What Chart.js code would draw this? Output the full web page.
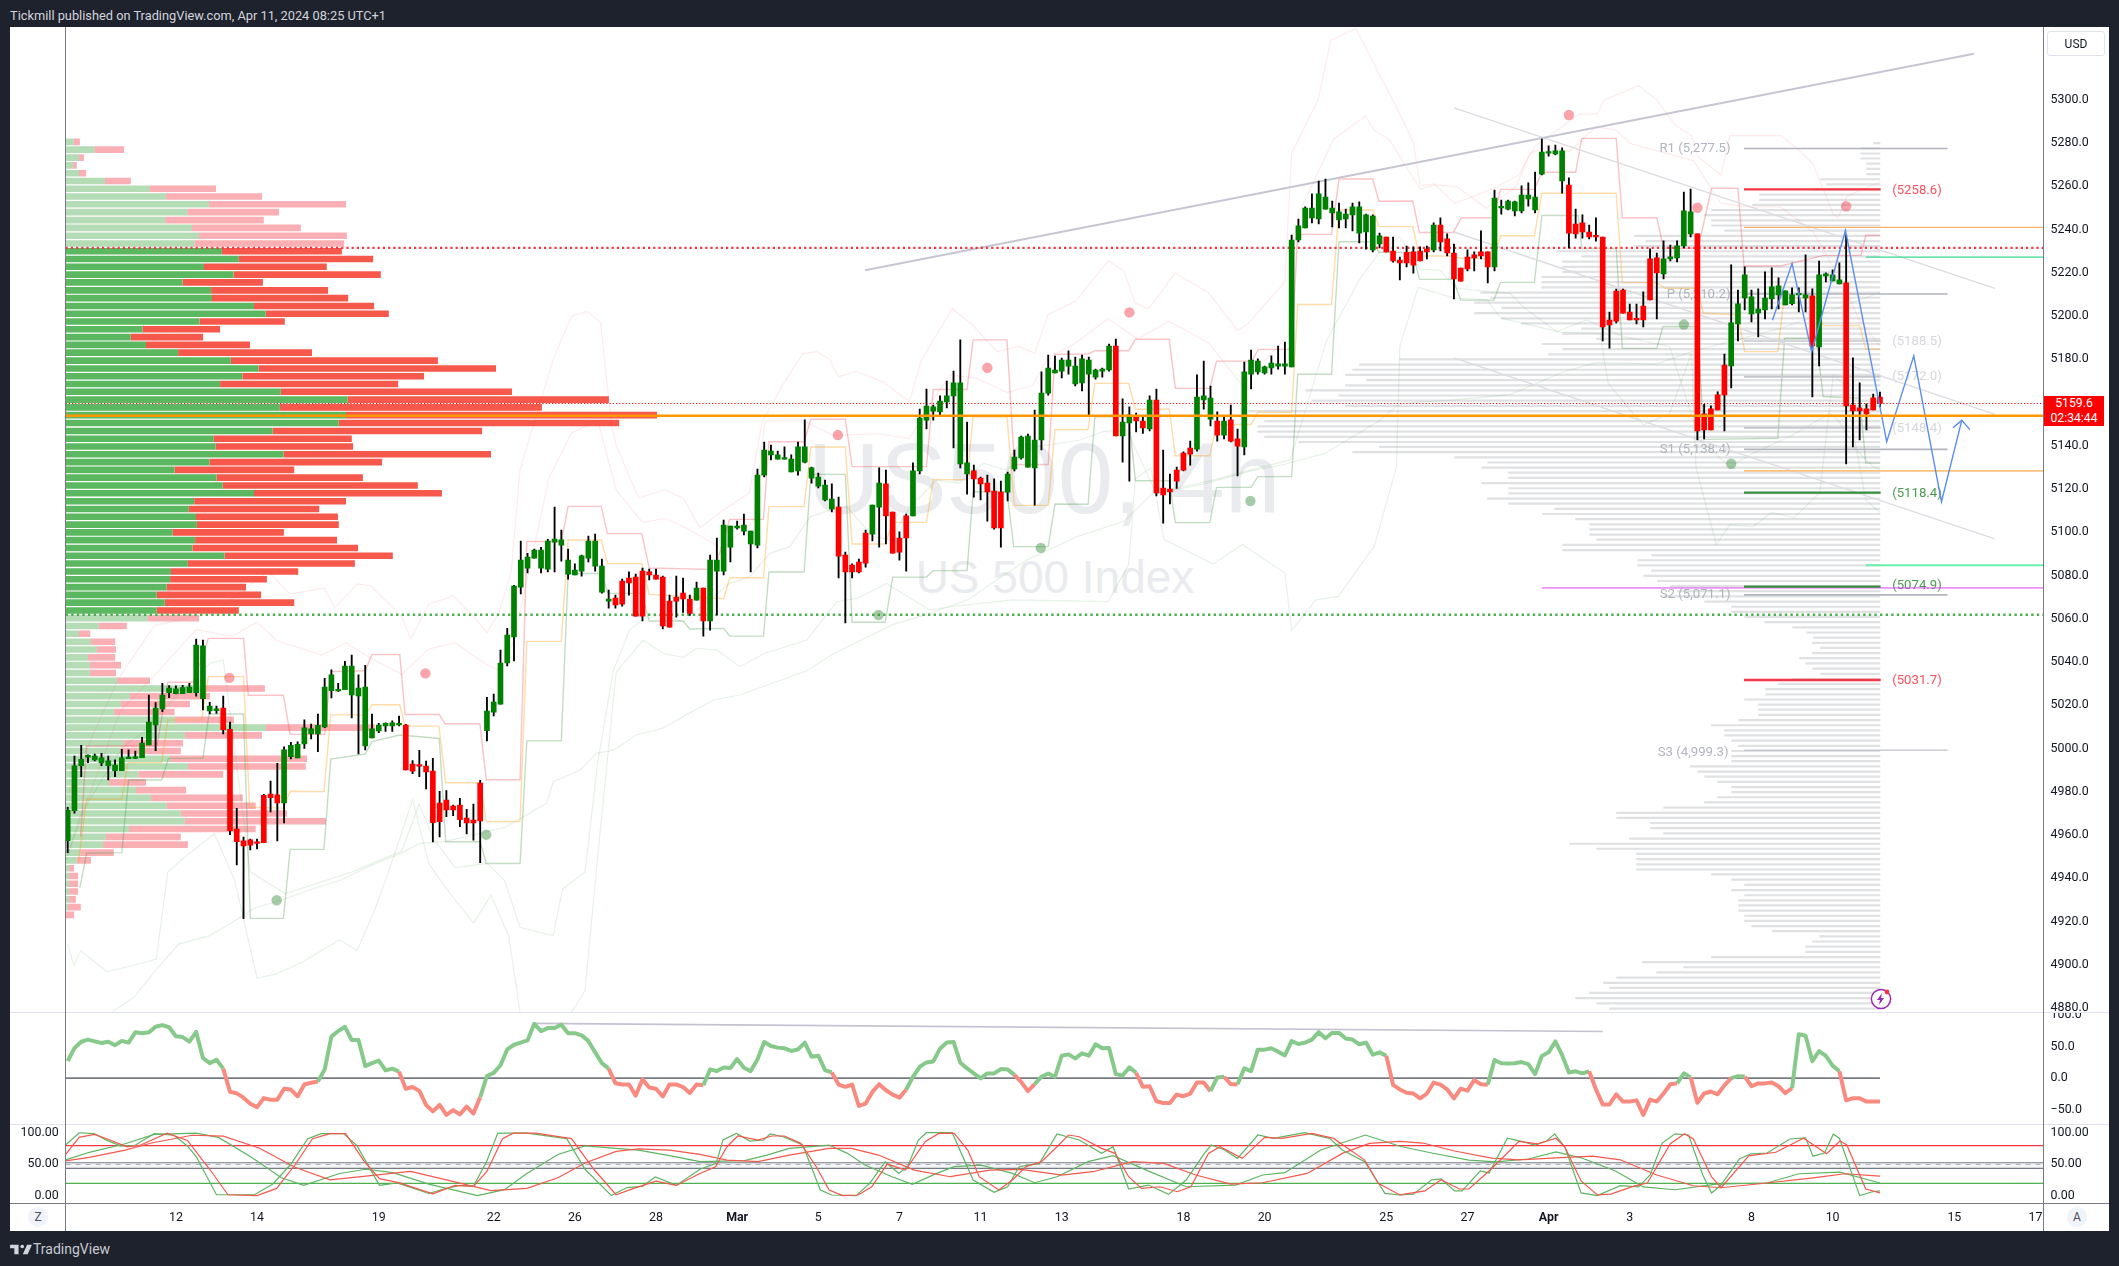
<!DOCTYPE html>
<html>
<head>
<meta charset="utf-8">
<title>US500, 4h</title>
<script src="https://cdn.jsdelivr.net/npm/chart.js@4/dist/chart.umd.min.js"></script>
<style>
  html, body { margin: 0; padding: 0; background: #1e222d; width: 2119px; height: 1266px; overflow: hidden; }
  body { position: relative; font-family: Roboto, sans-serif; }
  .abs { position: absolute; }
  canvas { position: absolute; display: block; }
  #panel { left: 10px; top: 27px; width: 2099px; height: 1204px; background: #fff; }
  #header { left: 10px; top: 6px; color: #d1d4dc; font-size: 12.8px; line-height: 20px; white-space: nowrap; }
  #brand { left: 33px; top: 1239px; color: #c7c9cf; font-size: 14px; line-height: 20px; }
  .wm { color: #e9ebee; font-family: "Liberation Sans", sans-serif; white-space: nowrap; text-align: center; }
  #wm1 { left: 744px; width: 600px; top: 420px; font-size: 100px; line-height: 116px; }
  #wm2 { left: 755px; width: 600px; top: 548px; font-size: 46px; line-height: 58px; }
  .sep { background: #e0e3eb; }
  .axisLine { background: #787b86; }
  #usd { left: 2047px; top: 31px; width: 58px; height: 25px; line-height: 25px; text-align: center; font-size: 12px; color: #131722; border: 1px solid #e0e3eb; border-radius: 3px; box-sizing: border-box; }
  #lastPrice { left: 2044px; top: 396px; width: 60px; height: 30px; background: #ff0000; color: #fff; font-size: 12.2px; line-height: 14.5px; text-align: center; }
  .round { width: 20px; height: 20px; line-height: 20px; border-radius: 10px; background: #f0f3fa; color: #50535e; font-size: 12px; text-align: center; }
</style>
</head>
<body>
<div id="panel" class="abs"></div>
<div id="header" class="abs">Tickmill published on TradingView.com, Apr 11, 2024 08:25 UTC+1</div>
<svg class="abs" style="left:10px;top:1241px" width="22" height="17" viewBox="0 0 36 28"><path fill="#d1d4dc" d="M14 6H0v6h7v10h7V6zm15 16h-8l7-16h8l-7 16z"/><circle cx="20" cy="9" r="3" fill="#d1d4dc"/></svg>
<div id="brand" class="abs">TradingView</div>
<div id="wm1" class="abs wm">US500, 4h</div>
<div id="wm2" class="abs wm">US 500 Index</div>

<canvas id="mainChart" width="2099" height="985" style="left:10px;top:27px"></canvas>
<canvas id="oscChart" width="2099" height="113" style="left:10px;top:1012px"></canvas>
<canvas id="stochChart" width="2099" height="106" style="left:10px;top:1125px"></canvas>

<div class="abs sep" style="left:10px;top:1012px;width:2099px;height:1px"></div>
<div class="abs sep" style="left:10px;top:1124px;width:2099px;height:1px"></div>
<div class="abs axisLine" style="left:10px;top:1203px;width:2099px;height:1px"></div>
<div class="abs axisLine" style="left:65px;top:27px;width:1px;height:1204px"></div>
<div class="abs axisLine" style="left:2043px;top:27px;width:1px;height:1204px"></div>

<div id="usd" class="abs">USD</div>
<div id="lastPrice" class="abs">5159.6<br>02:34:44</div>
<div class="abs round" style="left:28px;top:1207px">Z</div>
<div class="abs round" style="left:2067px;top:1207px">A</div>
<svg class="abs" style="left:1869px;top:987px" width="24" height="24" viewBox="0 0 24 24"><circle cx="12" cy="12" r="9.6" fill="#fff" stroke="#9c27b0" stroke-width="1.5"/><path fill="#9c27b0" d="M13 6l-5 7h3l-1 5 5-7h-3z"/><circle cx="18" cy="5" r="2.4" fill="#f23645"/></svg>

<script>
// ── Candles, oldest first ─────────────────────────────────────────────────
var candleHigh = [
  4972.9,4996.6,5001.5,4997.1,4997.5,4997.8,4996.6,4994.8,4999.7,4999.4,4998.9,5005.2,5024.7,5021.3,5030.2,5029.1,5029.0,5029.3,5030.2,5050.7,5050.2,5021.4,5019.7,5024.3,5012.3,
  4972.4,4959.1,4958.2,4958.2,4978.9,4985.0,4993.2,5000.8,5002.9,5003.1,5013.3,5011.4,5016.0,5032.5,5036.4,5030.2,5040.4,5043.3,5034.1,5038.5,5016.0,5011.7,5011.9,5012.8,5015.0,
  5011.2,4994.5,4999.2,4994.2,4995.5,4980.2,4980.6,4973.9,4977.0,4971.9,4974.4,4985.3,5023.7,5025.2,5045.6,5055.6,5075.5,5096.0,5090.3,5092.3,5093.1,5096.8,5111.7,5101.1,5092.3,
  5085.4,5089.5,5098.3,5099.2,5087.7,5073.3,5071.0,5078.4,5081.7,5080.7,5083.5,5083.0,5083.0,5079.8,5071.0,5079.8,5078.9,5071.0,5077.0,5074.2,5089.5,5097.4,5105.7,5102.9,5105.2,
  5108.5,5100.6,5129.3,5141.8,5140.4,5137.6,5139.5,5135.8,5141.8,5152.0,5130.2,5127.4,5124.2,5122.4,5116.3,5090.9,5085.4,5087.7,5101.1,5112.6,5129.8,5128.8,5109.4,5100.2,5108.5,
  5132.1,5157.0,5166.3,5158.9,5163.1,5170.0,5174.6,5189.0,5151.0,5131.1,5125.6,5126.5,5124.7,5123.7,5127.9,5138.1,5144.5,5145.5,5156.6,5174.2,5182.0,5181.5,5180.6,5183.9,5181.1,
  5182.0,5181.1,5175.5,5176.0,5187.1,5189.4,5161.7,5158.0,5155.2,5153.3,5163.1,5166.3,5138.1,5127.0,5130.2,5137.2,5142.2,5172.8,5179.2,5167.7,5155.7,5153.3,5158.9,5147.8,5178.8,
  5184.3,5180.2,5176.9,5181.6,5186.2,5188.0,5237.5,5244.9,5250.5,5256.5,5262.5,5263.4,5253.2,5252.3,5249.5,5252.3,5252.8,5247.2,5246.8,5238.4,5236.6,5236.6,5227.3,5232.4,5232.1,
  5232.0,5232.4,5243.1,5245.4,5238.0,5233.3,5222.2,5230.6,5229.7,5239.4,5229.7,5258.3,5253.7,5253.7,5253.2,5260.2,5261.6,5266.6,5281.9,5278.7,5279.1,5277.8,5263.9,5249.5,5246.8,
  5242.1,5245.4,5236.6,5201.9,5212.5,5212.5,5205.6,5205.6,5211.2,5231.1,5229.2,5234.8,5232.9,5234.8,5257.4,5258.8,5238.0,5159.2,5158.5,5165.0,5182.5,5223.7,5212.1,5222.8,5212.1,
  5212.6,5220.5,5222.3,5217.7,5211.7,5213.1,5213.1,5228.3,5212.6,5225.5,5220.0,5221.4,5224.6,5237.6,5180.7,5169.1,5159.4,5164.0,5164.9
];
var candleLow = [
  4951.9,4970.1,4987.0,4993.5,4994.3,4992.1,4985.5,4987.0,4989.8,4995.4,4995.5,4995.8,5001.7,4999.1,5017.1,5023.6,5025.3,5025.4,5025.9,5024.3,5017.9,5016.0,5016.3,5006.8,4960.2,
  4946.2,4921.4,4953.1,4953.6,4956.5,4970.7,4957.3,4965.6,4995.2,4995.7,5000.1,5004.5,4998.6,5009.7,5023.4,5026.4,5027.3,5014.2,4997.5,4999.4,5004.9,5007.4,5007.9,5007.9,5010.5,
  4990.2,4988.4,4987.0,4981.4,4956.9,4959.2,4968.5,4969.0,4963.9,4960.6,4957.7,4947.2,5003.6,5015.1,5020.6,5038.2,5040.5,5071.5,5081.2,5088.1,5081.2,5081.7,5081.7,5086.7,5078.4,
  5080.3,5079.8,5086.3,5082.1,5071.9,5065.0,5065.0,5065.9,5071.0,5061.3,5059.0,5078.0,5078.4,5055.3,5056.2,5060.8,5063.0,5061.6,5068.7,5052.0,5054.8,5061.8,5080.3,5086.3,5101.5,
  5098.8,5081.7,5092.8,5125.6,5133.5,5133.9,5133.9,5127.9,5126.5,5132.1,5122.8,5120.5,5114.5,5109.4,5078.9,5058.1,5078.9,5081.2,5083.9,5096.0,5093.2,5094.6,5090.4,5087.2,5082.1,
  5107.6,5127.0,5147.8,5151.9,5153.8,5157.5,5139.0,5129.8,5117.7,5116.3,5115.0,5105.2,5101.5,5093.2,5114.5,5128.4,5133.9,5130.2,5112.6,5138.1,5163.5,5173.7,5171.4,5173.2,5167.7,
  5165.4,5153.8,5170.9,5171.8,5174.6,5144.6,5132.5,5123.7,5146.4,5145.8,5146.9,5116.8,5104.3,5113.1,5120.3,5128.4,5131.1,5137.6,5157.0,5149.2,5142.2,5143.2,5141.8,5126.1,5135.8,
  5166.3,5173.2,5173.2,5173.2,5175.5,5173.2,5176.5,5234.3,5240.8,5243.1,5242.6,5249.5,5241.2,5240.8,5240.8,5239.4,5233.8,5231.0,5229.7,5231.5,5229.7,5225.0,5216.7,5222.7,5219.9,
  5225.5,5226.4,5229.7,5230.1,5227.8,5207.9,5216.2,5220.9,5220.9,5226.4,5215.3,5220.9,5247.2,5249.1,5246.3,5247.7,5250.9,5247.7,5265.3,5274.0,5274.5,5256.9,5231.5,5236.1,5236.1,
  5235.7,5234.7,5188.5,5185.2,5196.8,5201.4,5198.2,5196.4,5195.0,5207.5,5198.7,5217.2,5225.5,5225.1,5231.6,5236.6,5142.8,5143.2,5147.4,5156.6,5146.9,5166.8,5188.5,5202.9,5197.3,
  5190.4,5198.7,5203.3,5203.3,5205.2,5205.2,5202.0,5202.0,5162.6,5177.0,5215.8,5216.3,5214.9,5131.7,5139.5,5142.8,5147.4,5156.6,5158.0
];
var bodyTop = [
  4971.6,4992.0,4995.1,4996.9,4996.6,4995.7,4994.3,4992.4,4995.7,4996.1,4995.8,5002.6,5012.3,5018.8,5024.8,5028.0,5027.6,5028.2,5028.5,5047.9,5047.5,5019.7,5018.3,5018.8,5008.9,
  4962.8,4957.3,4957.8,4956.4,4978.4,4979.0,4978.6,4999.4,5001.5,5002.0,5009.6,5009.1,5010.8,5028.5,5034.1,5027.1,5038.2,5038.2,5028.0,5028.5,5009.1,5010.9,5011.7,5011.9,5011.4,
  5010.9,4992.9,4992.2,4991.9,4989.6,4974.8,4976.2,4973.4,4973.9,4967.9,4967.0,4984.1,5017.4,5021.5,5039.6,5052.5,5075.2,5087.2,5088.6,5091.8,5091.8,5096.0,5096.9,5096.5,5087.2,
  5082.6,5089.1,5096.0,5096.0,5084.4,5069.2,5069.6,5077.5,5078.9,5079.3,5082.1,5081.7,5080.3,5079.3,5068.2,5070.1,5071.9,5069.2,5074.2,5074.2,5087.2,5087.2,5103.4,5102.9,5102.9,
  5103.4,5100.6,5126.5,5138.1,5137.6,5135.8,5134.4,5133.9,5139.5,5139.5,5129.8,5125.6,5121.9,5115.4,5111.7,5089.5,5084.9,5086.3,5099.7,5112.6,5122.8,5122.4,5109.4,5097.4,5107.6,
  5128.4,5152.9,5158.4,5158.0,5160.7,5163.1,5169.1,5169.1,5132.1,5128.4,5125.1,5122.8,5119.1,5118.6,5127.0,5134.8,5144.1,5144.5,5142.7,5164.4,5176.0,5175.1,5179.7,5179.7,5176.9,
  5180.2,5179.7,5175.1,5175.5,5186.2,5186.2,5151.0,5154.3,5153.3,5151.5,5161.2,5161.2,5120.5,5120.0,5128.8,5136.7,5139.0,5162.6,5163.1,5162.1,5151.5,5151.5,5152.0,5143.2,5174.2,
  5179.7,5179.2,5176.5,5178.3,5177.9,5177.9,5235.2,5241.7,5250.0,5250.0,5256.5,5255.1,5250.0,5248.2,5247.2,5250.5,5250.5,5246.8,5246.3,5237.1,5236.6,5230.1,5225.9,5229.5,5229.7,
  5230.1,5231.0,5242.1,5242.1,5235.7,5229.2,5222.2,5227.3,5228.3,5229.7,5229.7,5254.6,5250.5,5253.2,5252.8,5256.0,5256.0,5255.1,5275.9,5275.9,5276.4,5276.4,5260.6,5242.6,5243.1,
  5238.9,5237.0,5236.6,5198.2,5211.6,5212.1,5201.9,5198.7,5204.7,5226.5,5226.9,5226.5,5227.4,5232.5,5248.7,5248.2,5238.0,5154.8,5157.1,5163.6,5177.4,5196.9,5205.7,5219.1,5208.9,
  5203.3,5208.4,5213.5,5214.0,5211.7,5209.8,5210.3,5209.8,5209.4,5219.1,5219.5,5219.1,5216.8,5215.4,5158.9,5157.6,5157.1,5162.2,5162.6
];
var bodyBottom = [
  4957.4,4971.3,4992.1,4996.1,4994.8,4993.4,4992.1,4989.8,4989.8,4995.4,4995.5,4995.8,5001.7,5010.9,5018.3,5025.9,5025.4,5025.4,5025.9,5025.9,5023.1,5017.4,5017.6,5008.8,4962.1,
  4957.0,4955.0,4955.4,4956.1,4956.5,4977.3,4974.9,4974.9,4996.3,4995.7,5002.2,5006.8,5006.8,5010.0,5026.8,5026.7,5027.3,5024.8,5024.4,5001.2,5004.9,5008.2,5010.5,5010.5,5010.9,
  4990.2,4989.6,4991.9,4989.2,4965.7,4966.2,4971.7,4971.7,4967.1,4965.6,4965.6,4966.6,5008.3,5016.9,5020.6,5039.6,5051.6,5074.7,5083.5,5088.1,5083.5,5083.0,5095.5,5094.1,5080.7,
  5080.3,5082.1,5088.1,5084.4,5072.4,5068.2,5066.4,5066.8,5076.6,5061.3,5061.3,5080.3,5078.4,5056.7,5056.2,5068.2,5069.2,5062.5,5068.7,5059.0,5059.0,5082.1,5082.1,5093.2,5102.0,
  5100.6,5094.6,5094.1,5126.5,5135.8,5133.9,5133.9,5127.9,5128.4,5132.5,5125.1,5121.4,5115.0,5110.8,5089.0,5081.7,5081.7,5081.7,5085.8,5099.2,5111.7,5107.6,5090.4,5090.9,5097.4,
  5107.6,5128.4,5151.9,5156.1,5155.7,5160.3,5163.1,5131.6,5127.0,5124.7,5122.4,5118.7,5102.0,5102.0,5118.6,5129.3,5134.4,5130.2,5129.8,5142.7,5164.4,5173.7,5174.6,5176.9,5168.6,
  5169.1,5173.2,5171.8,5174.6,5175.1,5144.6,5144.6,5150.6,5151.5,5148.3,5147.8,5118.2,5117.3,5118.7,5123.7,5128.8,5136.2,5138.5,5161.2,5152.4,5145.0,5145.0,5142.2,5139.9,5139.5,
  5173.2,5174.2,5173.7,5176.0,5176.9,5176.9,5176.5,5235.2,5240.8,5245.4,5244.9,5249.5,5247.7,5244.5,5244.9,5246.8,5238.4,5238.9,5230.6,5233.4,5229.7,5225.5,5224.6,5224.6,5223.6,
  5225.5,5229.7,5230.6,5234.3,5229.2,5217.2,5216.2,5221.8,5226.9,5227.8,5222.7,5222.7,5250.0,5249.5,5248.6,5248.6,5254.2,5249.1,5265.7,5275.4,5275.0,5262.5,5238.4,5238.0,5238.9,
  5236.6,5236.6,5195.0,5195.9,5197.7,5201.4,5198.2,5198.2,5198.2,5207.5,5220.0,5219.5,5226.5,5226.9,5232.5,5238.0,5146.9,5147.4,5147.4,5156.6,5163.6,5177.0,5196.4,5208.4,5201.0,
  5201.5,5202.9,5208.0,5209.8,5205.2,5205.7,5209.8,5208.4,5186.2,5185.8,5218.6,5216.3,5214.9,5158.5,5156.2,5156.2,5154.8,5156.6,5159.6
];
// alternating run lengths of up and down candles, starting with up
var candleRuns = [23,9,18,12,19,12,1,1,19,5,2,4,9,5,16,1,2,2,1,6,3,1,1,2,21,7,1,8,11,14,5,5,12,1,4,6];

// ── Overlay step lines: bar number, price ─────────────────────────────────
var stepHighBar = [1.9,2.8,13.2,14.8,18.6,20.8,26,26.7,31.9,32.9,38,38.9,44,45,49.1,49.9,54.95,55.8,60.96,61.9,66.9,67.9,73,74,78.9,79.8,84.9,86,94.7,95.7,97.9,102.9,103.7,108.9,109.9,115,116,127,128,133,133.9,138.9,140,145,146,150.9,151.9,156.9,157.9,162.9,163.8,168.9,169.9,175.1,176.1,181,181.9,186.9,188,193,193.9,198.9,199.9,204.9,206.1,210.8,211.9,216.9,218,223,223.9,229,229.9,235,236,241.1,243.1,247,247.9,253.3,259.7,265.2,265.9,268];
var stepHighVal = [4959.3,5001.2,5001.2,5030.7,5030.7,5051,5051,5024.7,5024.7,5006.6,5006.6,5035.6,5036,5043.5,5043.5,5015.8,5015.8,5011.5,5011.5,4985.6,4985.6,5095.8,5095.8,5112,5112,5099.4,5099.4,5083.5,5082.9,5082.9,5106,5106,5141.9,5141.9,5152.3,5152.3,5130.4,5130.4,5166.1,5166.1,5189,5189,5131.4,5131.4,5182.3,5182.5,5184,5184,5189.3,5189.3,5166.6,5166.6,5179.2,5179.2,5184.6,5184.6,5237.8,5237.8,5263.4,5263.4,5253.1,5253.2,5238.7,5238.7,5245.5,5245.5,5258.6,5258.6,5266.5,5266.5,5282.2,5282.2,5245.5,5245.5,5231.4,5231.4,5259.1,5259.1,5223.2,5223.2,5228.1,5228.1,5237.4,5237.4];
var stepMidBar = [1.6,2.8,8,8.9,13.9,14.8,19.8,20.8,26,26.9,31.9,32.9,37.9,38.9,44,45,49.1,49.9,54.9,55.9,61,61.9,66.9,67.9,73,74,78.9,79.8,84.9,86,97,97.9,102.9,103.7,108.9,109.9,115,116,120.9,122,127,128,133,133.9,138.9,140,145,146,150.9,151.9,156.9,157.9,162.9,163.8,168.9,169.9,175,176,181,181.9,186.9,188,193,193.9,198.9,199.9,204.9,206,210.8,211.9,216.9,218,229,229.9,235,236.2,241,241.9,247,248,252.9,253.8,258.6,259.6,265,265.9,268];
var stepMidVal = [4947.7,4976.6,4976.6,4993.5,4993.5,5013.3,5013.3,5033.3,5033.3,4972.9,4972.5,4980.3,4980.1,5015.6,5015.6,5020.3,5020.3,5010.4,5010.4,4984.2,4984.2,4966.3,4966.3,5049.6,5049.6,5096.5,5096.5,5085.6,5085.6,5071.3,5069.3,5079,5079,5111.9,5111.9,5139.5,5139.5,5094.6,5094.6,5104.6,5104.6,5124.4,5124.4,5153.5,5153.5,5112.5,5112.5,5147.6,5147.6,5168.9,5168.9,5156.9,5156.9,5135.4,5135.4,5149.9,5149.9,5155.5,5155.5,5205.4,5205.4,5249.1,5249.1,5241.4,5241.4,5227.8,5227.8,5226.7,5226.7,5237.2,5237.2,5256.8,5256.8,5215.5,5215.5,5212.9,5212.9,5201.3,5200.6,5183.6,5183.6,5208.3,5208.3,5195.6,5195.6,5184.7,5184.7];
var stepLowBar = [1.8,2.8,8,9,13.9,14.9,20,20.9,26,27,31.9,32.9,37.9,38.9,44,45,49.1,54.95,55.9,61,61.9,66.9,67.9,73,74,78.9,79.9,84.9,86,91,92,97,97.9,102.9,103.7,108.9,109.9,115,116,120.9,122,127,128,133,133.9,138.9,139.9,145,146,150.9,151.9,156.9,157.9,162.9,163.8,168.9,169.9,175,176,181,181.9,186.9,188,193,193.9,198.9,199.9,204.9,206,210.9,211.9,216.9,218,223.4,223.9,229,229.9,235,235.9,241,242,252.9,253.9,258.6,259.6,265,265.9,268];
var stepLowVal = [4935.7,4951.6,4951.9,4985.5,4985.5,4995.5,4995.5,5016,5016,4921.5,4921.5,4953.4,4953.4,4995.2,4997.5,5003.2,5006.3,5004.7,4956.9,4956.9,4946.9,4946.9,5003.6,5003.6,5081,5081,5071.8,5071.8,5059,5059,5055.3,5055.6,5052.1,5052,5081.7,5081.7,5126.8,5126.8,5058.4,5058.4,5079.3,5079.3,5082.3,5082.3,5118.8,5118.8,5093.4,5093.4,5113.1,5113,5153.5,5153.5,5123.9,5123.9,5104.5,5104.5,5120.8,5120.8,5125.8,5125.8,5173.1,5173.1,5234.4,5234.4,5229.5,5229.5,5217,5217,5207.4,5207.4,5215.6,5215.6,5246.5,5246.5,5231.3,5231.3,5185.1,5185.1,5195.2,5195.2,5143,5143.5,5189.8,5189.8,5162.8,5162,5132,5132];

// ── Faint envelope lines: bar number, price ───────────────────────────────
var upperBandBar = [0,3.5,7.5,12.8,21.7,29.6,32.9,37.9,39.5,42.8,44.8,49.4,50.7,53.4,57,60,62,63.8,65.6,66.9,71.8,74.5,76.8,78.8,80.4,81.1,84.4,88.3,91,93.5,96.8,100.8,102.7,106,108.7,110.7,112.6,114,116.6,120.6,124.5,126.2,130.8,133.8,137.4,140.7,143,145,149,153.9,156.2,157.9,159.8,163.8,168.7,173,174.4,180,181,184.9,186.8,190.5,197,199,200,202.1,205.1,210.6,214.6,217,223.5,226.2,227.2,232.3,235,237.7,240.1,241.1,244.5,245.8,253.3,256,258.1,261.1,261.8,263.1,268];
var upperBandVal = [4978.3,5004.8,5032.4,5056.9,5063,5082,5071.5,5074.3,5065,5076.2,5075.3,5061.1,5050.8,5066.8,5070.6,5061.1,5053.6,5063,5082,5129.1,5180,5199.9,5202.2,5197.1,5149.9,5140.4,5115.9,5119.7,5115.9,5102.1,5110,5118.3,5151.3,5169.5,5182.7,5183.6,5180.3,5172,5174.5,5169.5,5160.4,5179.4,5203.4,5196,5183.6,5186,5182.7,5200.9,5206.7,5225.7,5220.7,5205.9,5203.4,5219.9,5210.8,5193.5,5196,5215.8,5275.2,5300,5327.5,5333,5293.4,5280.2,5260.4,5261.2,5252.1,5258.7,5265.3,5278.5,5293.4,5293.4,5300,5306.6,5300,5288.4,5283.5,5273.6,5265.3,5283.5,5283.5,5276.9,5270.3,5247.1,5245.5,5255.4,5262];
var innerUpperBar = [0,3.2,7.8,11.8,14.4,19,24.3,28,30.9,37.5,41.2,44.1,49.4,53.4,57.3,61.3,63.6,65.9,71.2,74.5,78.4,81.1,85,88.3,91,96.8,101.4,103.1,108.4,113.3,119.9,124.5,127.2,130.5,134.4,139,142.7,145,148.3,153.9,158.2,162.8,168.7,173.7,180.6,182,187.2,191.9,193.2,195.5,200,202,205.4,209.8,214.2,216.2,218.7,222.1,226,229,231,240.4,244.5,248.6,253.3,258.1,262.1,264.8,268];
var innerUpperVal = [4950.8,4978.3,5017.6,5030.4,5039.2,5055,5052,5058.5,5050,5043.2,5049,5043.2,5034.3,5046.1,5049,5040.2,5036.3,5049,5125.3,5146,5151.8,5119.7,5104.6,5106.4,5102.7,5092.7,5105.1,5151.3,5152.2,5144.7,5145.6,5143.4,5158,5172.8,5171.2,5164.6,5167.9,5181.1,5186,5198.9,5189.3,5197.6,5187.7,5167.9,5191.8,5247.1,5281.8,5292.6,5286,5281.4,5258.8,5260.7,5259.9,5249.9,5259.9,5275.3,5278.4,5276.1,5287.6,5286,5279.9,5271.9,5252.1,5250.5,5250.5,5238.9,5217.4,5199.2,5186];
var innerLowerBar = [-0.2,1.8,5.3,8.2,11.7,15.1,18.6,21,23,27,32.2,42.1,49.4,52,54,57.3,62,64.6,66.9,71.8,73.2,76.5,78.4,80.7,83.1,84.9,87.6,91,97.9,100.9,103.8,106.8,109.8,112.7,115.2,119.1,121.6,124.6,128.5,131.9,135.4,138.8,143.3,149.7,153.1,156.6,161,163.9,170.4,174.8,180.8,186.2,191,194,197,200,202.9,205.4,210.3,213.3,215.2,217.2,220.2,224.6,230,236.9,241.3,245.8,249.2,254.7,260.6,261.8,264.5,267,268];
var innerLowerVal = [4948.5,4968.6,4987,5000.9,5008.6,5021,5031.8,5039.5,5041,4943,4933,4943,4952.8,4974.4,4958.7,4945,4946.9,4939,4917.4,4913.5,4935.1,4943,4994,5036.3,5054.8,5059.5,5061.8,5058.7,5076.4,5079.5,5090.3,5093.4,5107.2,5110.3,5111.9,5098,5096.5,5111.9,5124.2,5122.7,5132,5128.8,5139.6,5142.7,5146.6,5147.4,5118,5120.4,5125,5128.8,5133.5,5189,5216.7,5229.8,5236.7,5221.6,5221.3,5212.9,5211.3,5210.5,5204.4,5199.7,5192.8,5198.2,5190.5,5186,5142.8,5130.4,5136.6,5144.3,5155.1,5152,5138.1,5130.4,5128.9];
var outerLowerBar = [0,0.9,1.9,5.8,9.8,13.1,14.8,17.7,21.7,24.7,28,30.9,34.9,40.2,42.8,45.4,48.1,51,53.4,56,60,62.6,65.2,66.9,68.5,74.5,76.5,78.4,81.1,85.1,88.1,91,93,96,99.4,103,109.3,113.7,116.7,121.1,127.5,130.5,139.7,153.9,156.9,157.9,160.2,162.1,169.4,173.7,180,181,184.6,187.9,193.2,196.5,197,199.7,205.1,209.9,211.9,220.7,226.6,227.8,231.5,233,236.9,240.1,240.8,243.8,245.8,249.2,252,255.3,259.1,261.1,262.8,265.9,268];
var outerLowerVal = [4909.6,4899.7,4906.6,4896.8,4899.8,4902.7,4942.9,4950.8,4960.6,4939,4893.9,4895.8,4901.7,4911.5,4906.6,4925.3,4948.9,4976.4,4946.9,4935.1,4919.4,4932.2,4913.5,4878.1,4864,4878.1,4888,4950.8,5035.3,5050.2,5044,5042.2,5046.4,5045.6,5037.9,5044,5050.2,5067.9,5069.5,5076.4,5064,5065.6,5068.8,5068,5085.3,5124.9,5129.9,5096.8,5085.3,5094.4,5081.2,5054.7,5068.8,5070.4,5093.5,5130,5186,5213.3,5208.3,5207.5,5199.2,5192.6,5192,5169,5155,5149.7,5155,5182.7,5129.9,5094.4,5103.5,5102.6,5109.2,5106.8,5118.3,5172.8,5167.9,5115,5109.2];
var slowLineBar = [6.5,9.8,13.1,16.4,21,24.7,27.6,30.9,36.2,40.2,44.8,49.4,52.1,55.5,61,64.9,70.8,71.8,75.8,78.2,80.7,84.1,88,91,95.5,99.4,109.3,113.3,121.9,127.2,133.1,141.7,149,156.2,160.2,168.1,174.7,180,185.9,193.8,197,205.1,213.3,221.4,226.2,235,240.1,253.3,268];
var slowLineVal = [4878.1,4885,4897.8,4909.6,4913.5,4920.4,4926.3,4929.2,4935.1,4939,4945.9,4951.8,4956.2,4956.9,4960.8,4963.9,4974.7,4984.7,4990.1,4997.8,4999.3,5006.3,5009.4,5014.8,5022.5,5024.8,5036,5044,5057.2,5062.2,5068.8,5087,5097.7,5105.1,5117.5,5122.4,5128.2,5131.5,5136.5,5151.3,5159.6,5161.3,5163.7,5174.5,5178.6,5177.8,5183.6,5194.3,5210.8];

// ── Fractal dots ──────────────────────────────────────────────────────────
var dotHighBar = [23.9,52.9,113.9,136,157,222,241,263];
var dotHighVal = [5032.7,5034.8,5145,5176.1,5201.7,5293,5250.1,5250.8];
var dotLowBar = [30.9,61.9,119.9,143.9,174.9,239,246];
var dotLowVal = [4929.9,4960.2,5061.8,5092.8,5114.5,5196.1,5131.7];

// ── Left volume profile: row price, up volume, total volume ───────────────
var vpLeftPrice = [5280.6,5277.0,5273.3,5269.7,5266.1,5262.5,5258.9,5255.3,5251.7,5248.1,5244.4,5240.8,5237.2,5233.6,5230.0,5226.4,5222.8,5219.2,5215.6,5211.9,5208.3,5204.7,5201.1,5197.5,5193.9,5190.3,5186.7,5183.1,5179.4,5175.8,5172.2,5168.6,5165.0,5161.4,5157.8,5154.2,5150.6,5146.9,5143.3,5139.7,5136.1,5132.5,5128.9,5125.3,5121.7,5118.1,5114.4,5110.8,5107.2,5103.6,5100.0,5096.4,5092.8,5089.2,5085.6,5081.9,5078.3,5074.7,5071.1,5067.5,5063.9,5060.3,5056.7,5053.1,5049.4,5045.8,5042.2,5038.6,5035.0,5031.4,5027.8,5024.2,5020.6,5016.9,5013.3,5009.7,5006.1,5002.5,4998.9,4995.3,4991.7,4988.1,4984.4,4980.8,4977.2,4973.6,4970.0,4966.4,4962.8,4959.2,4955.6,4951.9,4948.3,4944.7,4941.1,4937.5,4933.9,4930.3,4926.7,4923.1];
var vpLeftUp = [8,29,13.4,7.6,13.4,39.3,84.4,100,143.3,121.9,99.6,126.3,133.5,129,156.3,173.2,138.4,167.9,117,145.5,146.4,188.4,200,133.9,76.8,65.2,80.4,112.5,165.2,192.9,176.8,154.5,215.2,282.1,214.3,280.4,273.2,207.1,148.2,150,217.9,143.8,108.9,150.9,157.1,188.4,128.6,123.2,130.4,131.3,107.1,129.5,126.8,158.9,122.3,105.4,104.5,100.9,91.1,99.1,91.1,82.1,33,13.4,25.4,31.3,22.3,24.1,24.1,51.8,139,64.3,55.3,48.3,109.3,200.3,119.3,57.7,54.9,104.5,122.3,72.8,43.3,70.5,85.3,100.9,115.2,118.8,63.4,40.2,37.5,14.7,11.2,3.6,3.6,3.6,3.6,3.6,2.2,0];
var vpLeftTotal = [14.3,58.5,18.3,11.2,20.5,65.2,150.4,196.4,280.4,213.4,198.2,235.3,281.3,278.6,276.3,307.6,261.2,315.2,197.3,262.5,282.6,308.5,323.2,219.2,154.5,137.5,184.4,246.4,372.3,430.4,358.5,332.6,446.4,543.3,476.3,591.5,553.6,416.5,286.2,287.5,425.4,316.5,228.6,297.3,352.2,376.3,280.4,253.6,272.3,273.2,218.3,271.4,292.4,327.2,289.3,232.6,201.3,180.4,195.5,228.6,173.2,133.5,61.2,24.6,49.6,50.4,49.6,55.4,50.4,84.4,199.3,144.3,124.3,109,168.3,309.3,196.3,117.3,115.2,241.5,240.2,157.6,80.4,120.5,177.2,190.1,221.4,260.3,190.1,115.2,122.3,48.2,25.4,8.5,12.5,12.5,12.5,10.3,15.2,8.5];
// rows of the value area are drawn solid, the others pale
var vpLeftAreaFirst = 14;
var vpLeftAreaLast = 60;

// ── Right volume profile: row price, volume ───────────────────────────────
var vpRightPrice = [5280.0,5277.6,5275.2,5272.9,5270.5,5268.1,5265.7,5263.3,5260.9,5258.6,5256.2,5253.8,5251.4,5249.0,5246.7,5244.3,5241.9,5239.5,5237.1,5234.7,5232.4,5230.0,5227.6,5225.2,5222.8,5220.5,5218.1,5215.7,5213.3,5210.9,5208.5,5206.2,5203.8,5201.4,5199.0,5196.6,5194.2,5191.9,5189.5,5187.1,5184.7,5182.3,5180.0,5177.6,5175.2,5172.8,5170.4,5168.0,5165.7,5163.3,5160.9,5158.5,5156.1,5153.8,5151.4,5149.0,5146.6,5144.2,5141.8,5139.5,5137.1,5134.7,5132.3,5129.9,5127.6,5125.2,5122.8,5120.4,5118.0,5115.6,5113.3,5110.9,5108.5,5106.1,5103.7,5101.4,5099.0,5096.6,5094.2,5091.8,5089.4,5087.1,5084.7,5082.3,5079.9,5077.5,5075.1,5072.8,5070.4,5068.0,5065.6,5063.2,5060.9,5058.5,5056.1,5053.7,5051.3,5048.9,5046.6,5044.2,5041.8,5039.4,5037.0,5034.6,5032.2,5029.9,5027.5,5025.1,5022.7,5020.3,5018.0,5015.6,5013.2,5010.8,5008.4,5006.1,5003.7,5001.3,4998.9,4996.5,4994.2,4991.8,4989.4,4987.0,4984.6,4982.2,4979.9,4977.5,4975.1,4972.7,4970.3,4968.0,4965.6,4963.2,4960.8,4958.4,4956.0,4953.7,4951.3,4948.9,4946.5,4944.1,4941.8,4939.4,4937.0,4934.6,4932.2,4929.8,4927.5,4925.1,4922.7,4920.3,4917.9,4915.6,4913.2,4910.8,4908.4,4906.0,4903.6,4901.3,4898.9,4896.5,4894.1,4891.7,4889.4,4887.0,4884.6,4882.2,4879.8];
var vpRightVol = [7,20,20,20,14,14,14,60,54,67,121,121,128,169,176,169,169,156,246,235,246,324,299,318,318,318,339,339,339,400,390,406,379,406,379,359,299,318,284,339,318,332,481,521,528,535,514,535,575,542,569,535,632,623,616,623,623,616,582,501,528,426,393,399,372,372,399,372,372,393,372,326,338,305,291,291,291,284,318,318,229,243,243,229,237,223,210,203,217,176,149,149,136,116,88,74,67,68,60,68,81,75,68,60,88,102,115,115,136,122,122,122,142,169,156,156,149,142,149,149,149,190,183,176,163,149,149,163,176,217,264,264,230,230,217,251,311,284,244,244,244,244,169,149,136,149,136,142,142,142,136,136,129,108,61,68,75,75,169,238,197,224,264,277,271,291,305,284,271,244];

// ── Horizontal levels ─────────────────────────────────────────────────────
var levelPrice = [5277.5,5258.6,5241,5227.3,5210.2,5188.5,5172,5148.4,5138.4,5128.4,5118.4,5084.8,5074.9,5074.3,5071.1,5031.7,4999.3];
var levelFrom  = [247.9,247.9,247.9,265.9,247.9,247.9,247.9,247.9,247.9,247.9,247.9,265.9,247.9,218,247.9,247.9,247.9];
var levelTo    = [278,268.1,292.2,292.2,278,268.1,268.1,268.1,278,292.2,268.1,292.2,268.1,292.2,278,268.1,278];
var levelStyle = ['pivot','res','orangeThin','tealThin','pivot','fadedWide','faded','faded','pivot','orange','sup','teal','sup','magenta','pivot','res','pivotThin'];

var valueAreaHigh = 5231.6;
var valueAreaLow = 5061.9;
var lastClose = 5159.6;
var pointOfControl = 5153.9;

// ── Level captions ────────────────────────────────────────────────────────
var captionText  = ['R1 (5,277.5)','P (5,210.2)','S1 (5,138.4)','S2 (5,071.1)','S3 (4,999.3)','(5258.6)','(5188.5)','(5172.0)','(5148.4)','(5118.4)','(5074.9)','(5031.7)'];
var captionBar   = [245.9,245.9,245.9,245.9,245.6,269.8,269.8,269.8,269.8,269.8,269.8,269.8];
var captionPrice = [5277.3,5210.0,5138.4,5071.2,4998.3,5258.2,5188.2,5172.0,5147.9,5118.0,5075.3,5031.4];
var captionStyle = ['pivot','pivot','pivot','pivot','pivot','res','faded','faded','faded','sup','sup','res'];

// ── Drawn trend lines ─────────────────────────────────────────────────────
var trendUpBar = [117.9,281.9];
var trendUpVal = [5221.2,5321.3];
var channelBar = [205,285];
var channelTop = [5296.3,5212.8];
var channelMid = [5238.9,5154.6];
var channelLow = [5180.7,5097];
var pathBar = [252.1,255,257.9,262.9,269,273,277.1,280.1];
var pathVal = [5198.1,5224.3,5183.5,5239.7,5141.9,5181.6,5114.2,5151.8];
var arrowBar = [278.8,280.1,281.3];
var arrowVal = [5148.4,5151.8,5147.5];

// ── Oscillator, one value per bar ─────────────────────────────────────────
var oscValues = [
  27.3,47.7,57.9,61.2,58.5,55.8,57.9,52.4,59.2,56.5,72.8,71.4,72.8,81.6,84.3,80.9,66.7,65.3,57.9,73.5,32,23.9,29.3,15.1,-21.6,
  -24.2,-31,-40.5,-46,-31.7,-34.4,-34.4,-16.8,-18.1,-29,-10,-7.3,-5.3,13.7,66,74.8,81.6,60.6,60.6,19.2,23.9,28,12.4,15.1,10.3,
  -16.8,-14.1,-20.2,-42.6,-52.7,-42.6,-58.2,-50.7,-57.5,-45.3,-56.1,-30.3,3.5,8.3,20.5,45.6,53.1,56.5,59.9,86.4,74.8,79.6,79.6,85,71.4,
  71.4,68,59.2,40.9,23.9,15.1,-8,-10,-10,-27.7,-1.9,-14.8,-16.8,-29,-10,-10,-14.1,-23.6,-10,-11.2,13.9,11.2,17.1,16,30.4,
  16.5,11.2,29.8,57.5,51.1,48.5,47.4,43.2,45.8,56.5,34.1,35.7,12.8,9.1,-10.1,-13.8,-10.1,-44.2,-40.4,-21.8,-9.6,-19.2,-26.1,-30.9,-18.1,
  2.2,18.1,25,26.6,46.9,56.5,57.5,24.5,15.5,7.5,-0.5,7.5,7.5,14.4,13.9,5.3,-5.8,-20.7,-9.6,2.2,7.5,2.2,35.7,37.8,31.4,
  39.4,35.7,53.8,47.4,48,6.4,4.3,17.1,8.5,-13.8,-12.8,-36.7,-39.4,-39.4,-26.1,-28.7,-24.5,-6.9,-6.9,-20.7,1.1,2.2,-9.6,-9.6,15.5,
  11.2,45.3,45.3,47.4,42.1,36.2,59.1,54.3,56.5,61.3,73,63.4,71.9,71.9,62.9,61.3,53.8,56.5,37.3,41,35.7,-10.6,-17.9,-23.1,-24.4,
  -32,-24.4,-7,-10.3,-17.9,-32,-16.7,-19.9,-3.2,-9.6,-10.3,28.8,23.7,23.1,23.7,25.6,22.4,6.4,35.3,41,58.3,36.5,9,10.9,7.7,
  10.9,-17.9,-41.7,-41.7,-25.6,-37.2,-37.2,-35.3,-58.3,-34,-37.2,-24.4,-9.6,-8.3,7.7,1.3,-39.1,-24.4,-21.2,-25.6,-11.5,0,3.2,2.6,-12.8,
  -8.3,-8.3,-7,-12.8,-23.7,-16,69.9,67.3,26.9,42.9,35.3,19.9,10.9,-35.3,-32,-32,-37.2,-37.2,-37.2
];
// bars where the oscillator colour flips, starting green
var oscFlipBars = [23,37,49,61,80,94,113,124,140,143,158,169,171,173,195,210,225,238,240,246,248,255,262];
var oscZero = 0;
var oscDivergenceBar = [68.9,227];
var oscDivergenceVal = [87,74.2];

// ── Stochastics, vertices: bar number, value ──────────────────────────────
var fastGreenBar = [-0.3,1.7,3.9,5.8,7.8,9.8,12.8,15.7,17.7,19,22,27.6,30.3,32.9,35.5,37.5,40.8,42.8,46.1,48.7,53.4,56,58,60,62,63.6,67.9,73.8,76.5,80.4,82.7,85,86.9,90,93.5,95.9,96.9,98.9,100.9,102.9,103.9,105.8,108.7,111.3,113,116.6,118.6,120.9,122.9,124.2,125.8,127,130.8,133.9,137,139,140.7,143.7,146.3,149.6,152.9,154.6,156.9,159.8,162.8,165.4,168.1,169.1,171.1,173,176,178.3,182.9,186.6,188.5,191.8,194.8,197,199,201.7,203.1,205.1,206.2,208.9,210.2,212.9,215,217,218.7,219.9,221.4,223.8,226.2,229.6,232.3,234,235.8,237.7,239.7,241.8,243.1,244.5,247.2,248.9,251.3,254.7,257,258.1,259.8,261.1,262,265,266.9,268];
var fastGreenVal = [80.8,100.4,99.1,88.2,79.4,79.4,99.1,96.4,79.4,62.4,1.4,1.4,18.3,48.9,91,99.1,99.1,79.4,16.3,20.4,3.4,11.5,16.3,14.9,55.6,99.8,99.8,91,42.1,0,12.9,14.9,29.9,16.3,42.1,51.5,88.8,99.4,87.2,88.8,98.4,94.1,80.8,8.9,1,0,19.6,54.2,35.5,46.2,88.8,100.5,100.5,24.9,5.2,14.2,46.2,51.5,98.4,88.8,67.5,78.1,10.5,16.9,2,24.9,67.5,80.8,72.8,59.5,96.8,91.4,100.5,91.4,72.8,54.2,3.6,1,2.4,25.3,26.6,7.5,7.5,39.4,36.2,91.7,86.6,80.8,87.2,98.7,77.6,4.3,0,15.8,13.9,33,84,98.7,96.8,33,4.3,17,58.5,66.8,68.1,90.4,92.3,63,68.1,98.1,91.7,0,6.2,7.5];
var fastRedBar = [-0.3,1.7,3.9,5.8,8.8,10.8,14.7,17.7,21,23.7,28,30.9,33.6,36.2,38.8,41.1,43.8,46.1,49.1,54,57.3,60,62,64.3,65.9,69.2,74.5,77.8,81.1,83.7,87,90,93.5,95.8,97.5,99.1,102.1,104.1,106,108.4,110.7,112.6,114.6,116.9,118.9,121.2,123.9,126.8,128.8,131.1,133.1,134.8,137.7,139.7,141.7,144,146.3,148,149.6,152.9,154.9,156.9,158.8,161.5,164.1,166.1,168.7,170.4,173.7,177,179.6,184,187.2,191.8,193.8,197,200.7,203.1,205.8,207.2,210.2,212.9,214.6,217.4,220.1,221.4,223.8,226.2,228.2,231.6,233.6,237,239.1,240.4,243.1,244.5,248.6,252.6,256.7,260.1,262.1,263.1,265.9,268];
var fastRedVal = [65.8,93,97.7,90.9,78,80.8,99.8,88.2,42.1,1.4,0,11.5,48.9,91,99.1,99.1,55.6,27.1,20.4,2.7,16.3,14.9,38.7,91,99.8,99.8,91,42.1,1.4,11.5,23.1,16.3,35.3,46.2,78.1,95.2,88.8,95.2,95.2,83.5,46.2,8.9,0,1,14.2,50.4,40.8,86.1,99.4,99.4,72.8,30.2,8.9,24.9,46.2,54.2,78.1,96.8,94.1,75.5,67.5,30.2,11.6,14.2,6.2,14.2,67.5,78.1,59.5,93,91.4,99.4,91.4,56.8,19.6,1.1,7.5,25.3,10.6,10.6,39.4,68.1,86.6,82.8,91.7,77.6,23.4,1.1,2.4,15.1,20.2,82.8,98.7,90.4,29.8,12.6,63.6,69.3,91.7,66.8,87.2,80.8,10.6,4.3];
var slowGreenBar = [-0.3,3.2,8.5,12.8,19,22.3,27,31.6,34.9,40.2,44.1,48.1,53.4,60.6,64.6,67.9,72.5,76.5,84.4,89,93.5,100.1,103.4,106.7,112.6,115.3,117.9,121.9,124.9,128.5,131.1,135.1,139.7,143,146.3,150.9,154.6,159.5,165.4,172.7,176.7,180,185.3,191.9,197,201.7,207.2,211.2,216,220.1,223.8,228.9,233,237.7,243.8,251.3,256,262.1,268];
var slowGreenVal = [57,69.2,82.8,97.7,99.8,93,62.4,28.5,16.3,35.3,42.1,36.6,18.3,0,9.5,35.3,65.8,79.4,72.6,63.8,54.3,55.8,64.8,75.5,80.8,67.5,48.8,30.2,18,35.5,46.2,48.8,35.5,20.6,30.2,54.2,63.7,40.8,14.2,16.9,32.9,36.6,72.8,96.8,78.9,68.1,56.6,54,58.5,70,60.4,39.4,13.9,9.4,18.3,20.2,34.9,37.4,20.2];
var slowRedBar = [-0.3,3.2,8.5,12.4,18.4,23,28.3,33.6,38.8,44.8,50.7,56,62.6,67.9,72.5,76.5,81.1,84.4,89,93.5,97.5,102.1,106.7,112.6,115.9,119.9,125.2,130.5,136.4,141,147,151.6,157.5,162.1,166.8,172,176.7,183.3,188.5,192.5,197,200.4,205.1,210.6,214.6,220.1,225.5,229.6,235,240.4,244.5,251.3,258.1,262.8,268];
var slowRedVal = [55.6,61,72.6,84.1,96.4,95,76,45.4,25.1,31.9,38.7,25.1,8.1,11.5,28.5,52.2,70.6,74.7,72.6,65.8,56.8,54.2,64.8,75.5,75.5,64.8,40.8,30.2,40.8,41.9,32.9,38.2,54.2,51.5,32.9,18.5,20.6,35.5,67.5,83.5,86.6,84,71.3,59.8,57.2,60.4,63,57.2,33,15.8,12.6,20.2,28.5,34.9,31.1];
var stochUpper = 80;
var stochLower = 19.5;
var stochMid = 49.8;
var stochBandTop = 52.5;
var stochBandBottom = 43.5;

// ── Axis ticks ────────────────────────────────────────────────────────────
var priceTicks = [5300,5280,5260,5240,5220,5200,5180,5160,5140,5120,5100,5080,5060,5040,5020,5000,4980,4960,4940,4920,4900,4880];
var oscTicks = [100,50,0,-50];
var stochTicks = [100,50,0];
var timeTickBars = [16,28,46,63,75,87,99,111,123,135,147,165,177,195,207,219,231,249,261,279,291];
var timeTickLabels = ['12','14','19','22','26','28','Mar','5','7','11','13','18','20','25','27','Apr','3','8','10','15','17'];

// ── Styles ────────────────────────────────────────────────────────────────
var GREEN = '#008000';
var RED = '#ff0000';
var levelStyles = {
  pivot:      { color: '#b2b5be', width: 1.6, text: '#b2b5be' },
  pivotThin:  { color: '#b2b5be', width: 1,   text: '#b2b5be' },
  res:        { color: '#f23645', width: 2.4, text: '#f7525f' },
  sup:        { color: '#388e3c', width: 2.4, text: '#4a9a4e' },
  faded:      { color: '#c4c6cc', width: 2,   text: '#d5d6da' },
  fadedWide:  { color: '#d5d6da', width: 2,   text: '#d5d6da' },
  orange:     { color: '#fbc17e', width: 1.8 },
  orangeThin: { color: '#fbb26a', width: 1.2 },
  teal:       { color: '#69f0ae', width: 1.8 },
  tealThin:   { color: '#35d98f', width: 1.2 },
  magenta:    { color: '#e040fb', width: 1 }
};

var BAR_MIN = -0.31;
var BAR_MAX = 292.2;
var PLOT_LEFT = 55.6;
var AXIS_WIDTH = 65.4;

Chart.defaults.font.family = 'Roboto, sans-serif';
Chart.defaults.animation = false;

function toPoints(xs, ys) {
  return xs.map(function(x, i) { return { x: x, y: ys[i] }; });
}

function lineSet(points, color, width, order, extra) {
  var set = {
    type: 'line',
    data: points,
    borderColor: color,
    backgroundColor: color,
    borderWidth: width,
    pointRadius: 0,
    tension: 0,
    fill: false,
    order: order
  };
  Object.keys(extra || {}).forEach(function(k) { set[k] = extra[k]; });
  return set;
}

function flatLine(value, from, to) {
  return [{ x: from, y: value }, { x: to, y: value }];
}

function dotSet(xs, ys, color) {
  return lineSet(toPoints(xs, ys), color, 0, 1, {
    showLine: false, pointRadius: 5.2, pointBackgroundColor: color, pointBorderWidth: 0
  });
}

// Rows of a profile become one line with gaps between them
function profileRows(prices, from, to, keep) {
  var pts = [];
  prices.forEach(function(price, i) {
    if (!keep(i)) return;
    pts.push({ x: from[i], y: price }, { x: to[i], y: price }, { x: null, y: null });
  });
  return pts;
}

// Plot areas must fill their panes exactly, so the half-label padding the
// scale asks for is dropped
function dropLabelPadding(scale) {
  scale.paddingTop = 0;
  scale.paddingBottom = 0;
  if (scale._margins) {
    scale._margins.top = 0;
    scale._margins.bottom = 0;
  }
}

function fixedAxis(ticks, decimals, width) {
  return {
    display: true,
    offset: false,
    grid: { display: false, drawTicks: false, offset: false },
    border: { display: false },
    afterFit: function(scale) {
      scale.width = width;
      dropLabelPadding(scale);
    },
    afterBuildTicks: function(scale) {
      scale.ticks = ticks.map(function(v) { return { value: v }; });
    },
    ticks: {
      color: '#131722',
      font: { size: 12.4 },
      padding: 7,
      autoSkip: false,
      callback: function(v) {
        var s = Math.abs(v).toFixed(decimals);
        return v < 0 ? '\u2212' + s : s;
      }
    }
  };
}

function hiddenBarAxis() {
  return { type: 'linear', display: false, min: BAR_MIN, max: BAR_MAX, offset: false, grid: { display: false, offset: false } };
}

var baseOptions = {
  responsive: false,
  maintainAspectRatio: false,
  devicePixelRatio: 1,
  events: [],
  plugins: { legend: { display: false }, tooltip: { enabled: false } }
};

function chartOptions(scales, padding) {
  var o = {};
  Object.keys(baseOptions).forEach(function(k) { o[k] = baseOptions[k]; });
  o.scales = scales;
  o.layout = { autoPadding: false, padding: padding };
  return o;
}

// ── Main pane ─────────────────────────────────────────────────────────────
var barIndex = bodyTop.map(function(v, i) { return i; });
var candleUp = [];
candleRuns.forEach(function(run, r) {
  for (var n = 0; n < run; n++) candleUp.push(r % 2 === 0);
});

var leftZeros = vpLeftUp.map(function() { return 0; });
function inArea(i) { return i >= vpLeftAreaFirst && i <= vpLeftAreaLast; }
function outArea(i) { return !inArea(i); }
var rightZeros = vpRightVol.map(function() { return 0; });

var mainSets = [
  lineSet(toPoints(upperBandBar, upperBandVal), 'rgba(242,54,69,0.1)', 1.2, 8),
  lineSet(toPoints(innerUpperBar, innerUpperVal), 'rgba(242,54,69,0.1)', 1.2, 8),
  lineSet(toPoints(innerLowerBar, innerLowerVal), 'rgba(56,142,60,0.12)', 1.2, 8),
  lineSet(toPoints(outerLowerBar, outerLowerVal), 'rgba(56,142,60,0.12)', 1.2, 8),
  lineSet(toPoints(slowLineBar, slowLineVal), 'rgba(56,142,60,0.12)', 1.2, 8),
  lineSet(toPoints(stepHighBar, stepHighVal), 'rgba(242,54,69,0.3)', 1.4, 7),
  lineSet(toPoints(stepMidBar, stepMidVal), 'rgba(255,152,0,0.34)', 1.4, 7),
  lineSet(toPoints(stepLowBar, stepLowVal), 'rgba(56,142,60,0.3)', 1.4, 7),
  lineSet(profileRows(vpLeftPrice, leftZeros, vpLeftUp, outArea), 'rgba(76,175,80,0.42)', 6.6, 9, { xAxisID: 'xVol' }),
  lineSet(profileRows(vpLeftPrice, vpLeftUp, vpLeftTotal, outArea), 'rgba(242,54,69,0.4)', 6.6, 9, { xAxisID: 'xVol' }),
  lineSet(profileRows(vpLeftPrice, leftZeros, vpLeftUp, inArea), '#5cb860', 6.6, 9, { xAxisID: 'xVol' }),
  lineSet(profileRows(vpLeftPrice, vpLeftUp, vpLeftTotal, inArea), '#f7584c', 6.6, 9, { xAxisID: 'xVol' }),
  lineSet(profileRows(vpRightPrice, rightZeros, vpRightVol, function() { return true; }), 'rgba(170,172,178,0.36)', 2.2, 10, { xAxisID: 'xVolR' }),
  lineSet(toPoints(trendUpBar, trendUpVal), '#c6c6d2', 2, 6),
  lineSet(toPoints(channelBar, channelTop), '#dcdce2', 1.4, 6),
  lineSet(toPoints(channelBar, channelMid), '#dcdce2', 1.4, 6),
  lineSet(toPoints(channelBar, channelLow), '#dcdce2', 1.4, 6),
  lineSet(flatLine(valueAreaHigh, BAR_MIN, BAR_MAX), '#f23645', 2.2, 5, { borderDash: [2.2, 3] }),
  lineSet(flatLine(valueAreaLow, BAR_MIN, BAR_MAX), '#4caf50', 2.4, 5, { borderDash: [2.4, 3.2] }),
  lineSet(flatLine(lastClose, BAR_MIN, BAR_MAX), '#ff0000', 1, 5, { borderDash: [1.2, 2] }),
  lineSet(flatLine(pointOfControl, BAR_MIN, BAR_MAX), '#ff9800', 2.6, 0),
  lineSet(toPoints(pathBar, pathVal), '#5b8def', 1.4, 1),
  lineSet(toPoints(arrowBar, arrowVal), '#5b8def', 1.4, 1),
  dotSet(dotHighBar, dotHighVal, 'rgba(242,54,69,0.45)'),
  dotSet(dotLowBar, dotLowVal, 'rgba(56,142,60,0.45)'),
  {
    type: 'bar',
    data: barIndex.map(function(i) { return { x: i, y: [candleLow[i], candleHigh[i]] }; }),
    backgroundColor: '#000',
    maxBarThickness: 1.2,
    barPercentage: 1,
    categoryPercentage: 1,
    grouped: false,
    order: 3
  },
  {
    type: 'bar',
    data: barIndex.map(function(i) { return { x: i, y: [bodyBottom[i], bodyTop[i]] }; }),
    backgroundColor: candleUp.map(function(up) { return up ? GREEN : RED; }),
    maxBarThickness: 5,
    barPercentage: 1,
    categoryPercentage: 1,
    minBarLength: 1.6,
    grouped: false,
    order: 2
  }
];

levelPrice.forEach(function(price, i) {
  var st = levelStyles[levelStyle[i]];
  mainSets.push(lineSet(flatLine(price, levelFrom[i], levelTo[i]), st.color, st.width, 4));
});

var captionPlugin = {
  id: 'levelCaptions',
  beforeDatasetsDraw: function(chart) {
    var ctx = chart.ctx;
    ctx.save();
    ctx.font = '13.2px Roboto, sans-serif';
    ctx.textBaseline = 'middle';
    captionText.forEach(function(text, i) {
      var st = levelStyles[captionStyle[i]];
      ctx.fillStyle = st.text;
      ctx.textAlign = text.charAt(0) === '(' ? 'left' : 'right';
      ctx.fillText(text, chart.scales.x.getPixelForValue(captionBar[i]), chart.scales.y.getPixelForValue(captionPrice[i]));
    });
    ctx.restore();
  }
};

var priceAxis = fixedAxis(priceTicks, 1, AXIS_WIDTH);
priceAxis.position = 'right';
priceAxis.min = 4878.2;
priceAxis.max = 5333.7;

new Chart(document.getElementById('mainChart'), {
  type: 'bar',
  data: { datasets: mainSets },
  plugins: [captionPlugin],
  options: chartOptions({
    x: hiddenBarAxis(),
    // profile lengths are volumes, drawn from the left edge and from the last bar
    xVol: { type: 'linear', display: false, offset: false, min: 0, max: 1978 },
    xVolR: { type: 'linear', display: false, offset: false, reverse: true, min: -163.3, max: 1814.7 },
    y: priceAxis
  }, { left: PLOT_LEFT, right: 0, top: 0, bottom: 0 })
});

// ── Oscillator pane ───────────────────────────────────────────────────────
function oscIsGreen(bar) {
  var flips = oscFlipBars.filter(function(b) { return b <= bar; }).length;
  return flips % 2 === 0;
}

var oscAxis = fixedAxis(oscTicks, 1, AXIS_WIDTH);
oscAxis.position = 'right';
oscAxis.min = -74.4;
oscAxis.max = 105.1;

new Chart(document.getElementById('oscChart'), {
  type: 'line',
  data: {
    datasets: [
      lineSet(flatLine(oscZero, BAR_MIN, 268), '#787b86', 1.8, 3),
      lineSet(toPoints(oscDivergenceBar, oscDivergenceVal), '#c2c2d0', 1.6, 2),
      lineSet(oscValues.map(function(v, i) { return { x: i, y: v }; }), '#86c98a', 4, 1, {
        borderJoinStyle: 'round',
        segment: {
          borderColor: function(ctx) { return oscIsGreen(ctx.p0DataIndex) ? '#86c98a' : '#f88a80'; }
        }
      })
    ]
  },
  options: chartOptions({ x: hiddenBarAxis(), y: oscAxis }, { left: PLOT_LEFT, right: 0, top: 0, bottom: 0 })
});

// ── Stochastic pane ───────────────────────────────────────────────────────
var stochRight = fixedAxis(stochTicks, 2, AXIS_WIDTH);
stochRight.position = 'right';
stochRight.min = -12.1;
stochRight.max = 112.8;
var stochLeft = fixedAxis(stochTicks, 2, PLOT_LEFT);
stochLeft.position = 'left';
stochLeft.min = -12.1;
stochLeft.max = 112.8;
stochLeft.ticks.padding = 7;

new Chart(document.getElementById('stochChart'), {
  type: 'line',
  data: {
    datasets: [
      lineSet(flatLine(stochBandTop, BAR_MIN, BAR_MAX), '#787b86', 1.2, 6, { fill: '+1', backgroundColor: 'rgba(120,123,134,0.08)' }),
      lineSet(flatLine(stochBandBottom, BAR_MIN, BAR_MAX), '#787b86', 1.2, 6),
      lineSet(flatLine(stochMid, BAR_MIN, BAR_MAX), '#b2b5be', 1, 6, { borderDash: [5, 5] }),
      lineSet(flatLine(stochUpper, BAR_MIN, BAR_MAX), '#f23645', 1.2, 5),
      lineSet(flatLine(stochLower, BAR_MIN, BAR_MAX), '#4caf50', 1.4, 5),
      lineSet(toPoints(slowGreenBar, slowGreenVal), '#5db561', 1.2, 4),
      lineSet(toPoints(slowRedBar, slowRedVal), '#f7574c', 1.2, 3),
      lineSet(toPoints(fastGreenBar, fastGreenVal), '#5db561', 1.2, 2),
      lineSet(toPoints(fastRedBar, fastRedVal), '#f7574c', 1.2, 1)
    ]
  },
  options: chartOptions({
    x: {
      type: 'linear',
      min: BAR_MIN,
      max: BAR_MAX,
      offset: false,
      position: 'bottom',
      grid: { display: false, drawTicks: false, offset: false },
      border: { display: false },
      afterFit: function(scale) { scale.height = 27.8; },
      afterBuildTicks: function(scale) {
        scale.ticks = timeTickBars.map(function(v) { return { value: v }; });
      },
      ticks: {
        color: '#131722',
        autoSkip: false,
        maxRotation: 0,
        padding: 7,
        font: function(ctx) {
          var label = timeTickLabels[timeTickBars.indexOf(ctx.tick && ctx.tick.value)];
          var bold = label === 'Mar' || label === 'Apr';
          return { size: 12.4, weight: bold ? 'bold' : 'normal' };
        },
        callback: function(v) { return timeTickLabels[timeTickBars.indexOf(v)]; }
      }
    },
    y: stochRight,
    yLeft: stochLeft
  }, { left: 0, right: 0, top: 0, bottom: 0 })
});
</script>
</body>
</html>
